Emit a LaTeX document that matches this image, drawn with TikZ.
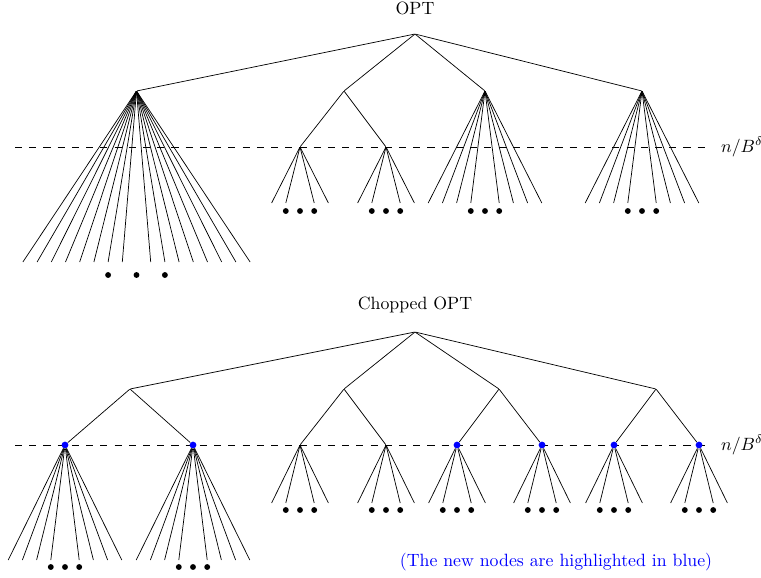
\documentclass[tikz,border=0pt]{standalone}
\usetikzlibrary{positioning}
\begin{document}
\begin{tikzpicture}[x=0.5625pt, y=-0.5625pt,
    inner/.style = {inner sep=0pt, minimum size=0pt},
    new/.style = {circle, fill=blue, inner sep=0pt, minimum size=3.8pt},
    dot/.style = {circle, fill=black, inner sep=0pt, minimum size=3.3pt},
    cut/.style = {dash pattern=on 4pt off 4pt}]
    \useasboundingbox (0,0) rectangle (761,577);
    % OPT
    \coordinate (cutl1) at (15,147);
    \coordinate (cutr1) at (708,147);
    \draw[cut] (cutl1) -- (cutr1);
    \node (lbl1) at (742,147) {$n/B^\delta$};
    \node (opt) at (415,8) {OPT};
    \node[inner] (r) at (415,34) {};
    \node[inner] (a) at (136.5,91) {};
    \node[inner] (b) at (344,91) {};
    \node[inner] (c) at (485,91) {};
    \node[inner] (d) at (642,91) {};
    \node[inner] (b1) at (300,147) {};
    \node[inner] (b2) at (386,147) {};
    \draw (r) -- (a);
    \draw (r) -- (b);
    \draw (r) -- (c);
    \draw (r) -- (d);
    \draw (b1) -- (b) -- (b2);
    \foreach \i in {-8,...,-1,1,2,...,8} {
        \path (a) ++(14.2*\i,171) coordinate (a-\i);
        \draw (a) -- (a-\i);
    }
    \foreach \i in {-1,0,1}
        \node[dot] (a-dot\i) at (136.5+28.4*\i,275) {};
    \foreach \p in {b1,b2} {
        \foreach \i in {-2,-1,1,2} {
            \path (\p) ++(14.2*\i,56) coordinate (\p-\i);
            \draw (\p) -- (\p-\i);
        }
        \foreach \i in {-1,0,1}
            \path (\p) ++(14.2*\i,64) node[dot] (\p-dot\i) {};
    }
    \foreach \p in {c,d} {
        \foreach \i in {-4,...,-1,1,2,...,4} {
            \path (\p) ++(14.2*\i,112) coordinate (\p-\i);
            \draw (\p) -- (\p-\i);
        }
        \foreach \i in {-1,0,1}
            \path (\p) ++(14.2*\i,120) node[dot] (\p-dot\i) {};
    }
    % Chopped OPT
    \coordinate (cutl2) at (15,445);
    \coordinate (cutr2) at (708,445);
    \draw[cut] (cutl2) -- (cutr2);
    \node (lbl2) at (742,445) {$n/B^\delta$};
    \node (copt) at (415,305) {Chopped OPT};
    \node[inner] (s) at (415,332) {};
    \node[inner] (e) at (130,389) {};
    \node[inner] (f) at (344,389) {};
    \node[inner] (g) at (499,389) {};
    \node[inner] (h) at (656,389) {};
    \node[new] (e1) at (65,445) {};
    \node[new] (e2) at (193,445) {};
    \node[inner] (f1) at (300,445) {};
    \node[inner] (f2) at (386,445) {};
    \node[new] (g1) at (457,445) {};
    \node[new] (g2) at (542,445) {};
    \node[new] (h1) at (614,445) {};
    \node[new] (h2) at (699,445) {};
    \draw (s) -- (e);
    \draw (s) -- (f);
    \draw (s) -- (g);
    \draw (s) -- (h);
    \draw (e1) -- (e) -- (e2);
    \draw (f1) -- (f) -- (f2);
    \draw (g1) -- (g) -- (g2);
    \draw (h1) -- (h) -- (h2);
    \foreach \p in {e1,e2} {
        \foreach \i in {-4,...,-1,1,2,...,4} {
            \path (\p) ++(14.2*\i,115) coordinate (\p-\i);
            \draw (\p) -- (\p-\i);
        }
        \foreach \i in {-1,0,1}
            \path (\p) ++(14.2*\i,122) node[dot] (\p-dot\i) {};
    }
    \foreach \p in {f1,f2,g1,g2,h1,h2} {
        \foreach \i in {-2,-1,1,2} {
            \path (\p) ++(14.2*\i,58) coordinate (\p-\i);
            \draw (\p) -- (\p-\i);
        }
        \foreach \i in {-1,0,1}
            \path (\p) ++(14.2*\i,65) node[dot] (\p-dot\i) {};
    }
    \node[text=blue] (note) at (556,562) {(The new nodes are highlighted in blue)};
\end{tikzpicture}
\end{document}
